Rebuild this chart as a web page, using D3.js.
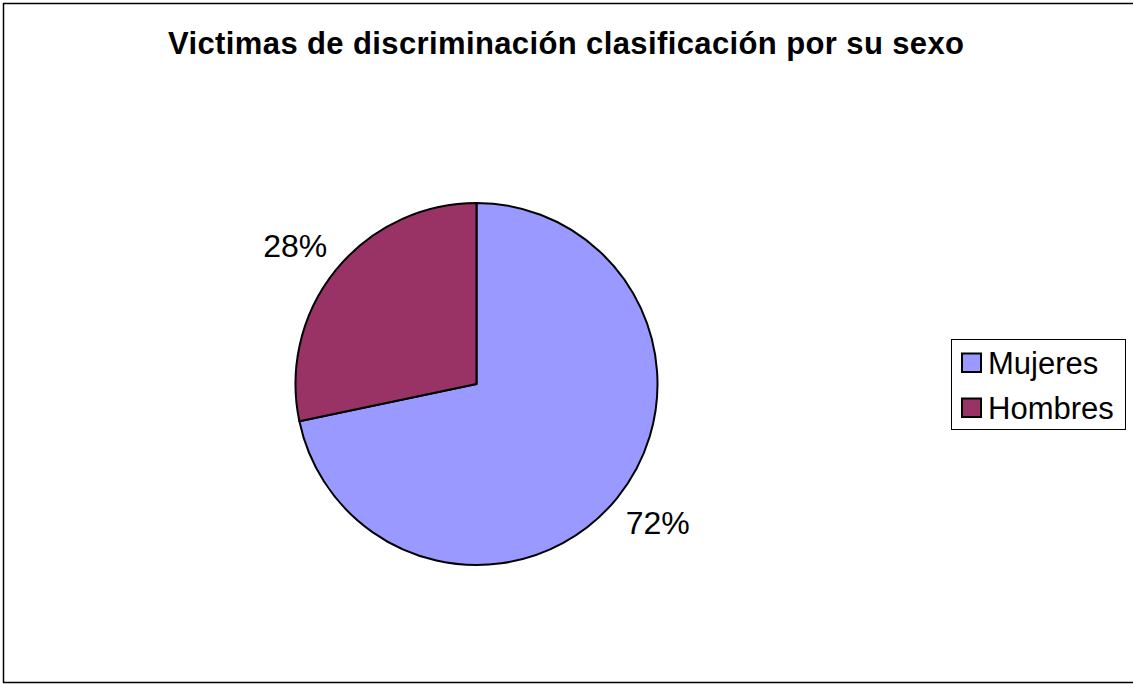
<!DOCTYPE html>
<html>
<head>
<meta charset="utf-8">
<script src="https://cdn.jsdelivr.net/npm/d3@7"></script>
<style>
	body { margin: 0; background: #fff; }
	svg { display: block; font-family: 'Liberation Sans', Arial, sans-serif; }
</style>
</head>
<body>
<script>
const w = 1133;
const h = 684;

const categories = ['Mujeres', 'Hombres'];
const values = [71.7, 28.3];
const colors = ['#9999ff', '#993366'];
const title = 'Victimas de discriminación clasificación por su sexo';

const cx = 476.5;
const cy = 384;
const r = 181;

const svg = d3.select('body').append('svg')
	.attr('width', w)
	.attr('height', h);

// outer frame
svg.append('rect')
	.attr('x', 3.5)
	.attr('y', 3.5)
	.attr('width', w + 10)
	.attr('height', 679)
	.attr('fill', '#fff')
	.attr('stroke', '#000')
	.attr('stroke-width', 1.5);

svg.append('text')
	.attr('x', 168)
	.attr('y', 54)
	.attr('textLength', 796)
	.attr('lengthAdjust', 'spacing')
	.style('font-size', '31px')
	.style('font-weight', 'bold')
	.text(title);

const data = categories.map((c, i) => ({ name: c, value: values[i], color: colors[i] }));

const pie = d3.pie()
	.sort(null)
	.value(d => d.value);

const arc = d3.arc().innerRadius(0).outerRadius(r);

const g = svg.append('g')
	.attr('transform', `translate(${cx},${cy})`);

const arcs = pie(data);

g.selectAll('path')
	.data(arcs)
	.enter()
	.append('path')
	.attr('d', arc)
	.attr('fill', d => d.data.color)
	.attr('stroke', '#000')
	.attr('stroke-width', 2)
	.attr('stroke-linejoin', 'round');

// labels sit just outside the pie, a touch counter-clockwise of the slice middle
const labelPos = d => {
	const a = (d.startAngle + d.endAngle) / 2 - 0.03;
	return [Math.sin(a) * 228, -Math.cos(a) * 228];
};

const total = d3.sum(values);
g.selectAll('text.pct')
	.data(arcs)
	.enter()
	.append('text')
	.attr('class', 'pct')
	.attr('x', d => labelPos(d)[0])
	.attr('y', d => labelPos(d)[1] + 11.5)
	.attr('text-anchor', 'middle')
	.style('font-size', '32px')
	.text(d => Math.round(d.data.value / total * 100) + '%');

// legend
const legend = svg.append('g');
legend.append('rect')
	.attr('x', 951.5)
	.attr('y', 339.5)
	.attr('width', 174)
	.attr('height', 90)
	.attr('fill', '#fff')
	.attr('stroke', '#000')
	.attr('stroke-width', 1);

const item = legend.selectAll('g.item')
	.data(data)
	.enter()
	.append('g')
	.attr('class', 'item')
	.attr('transform', (d, i) => `translate(0,${i * 45})`);

item.append('rect')
	.attr('x', 962)
	.attr('y', 353.5)
	.attr('width', 19)
	.attr('height', 18.5)
	.attr('fill', d => d.color)
	.attr('stroke', '#000')
	.attr('stroke-width', 2);

item.append('text')
	.attr('x', 988)
	.attr('y', 373.5)
	.style('font-size', '31px')
	.text(d => d.name);
</script>
</body>
</html>
